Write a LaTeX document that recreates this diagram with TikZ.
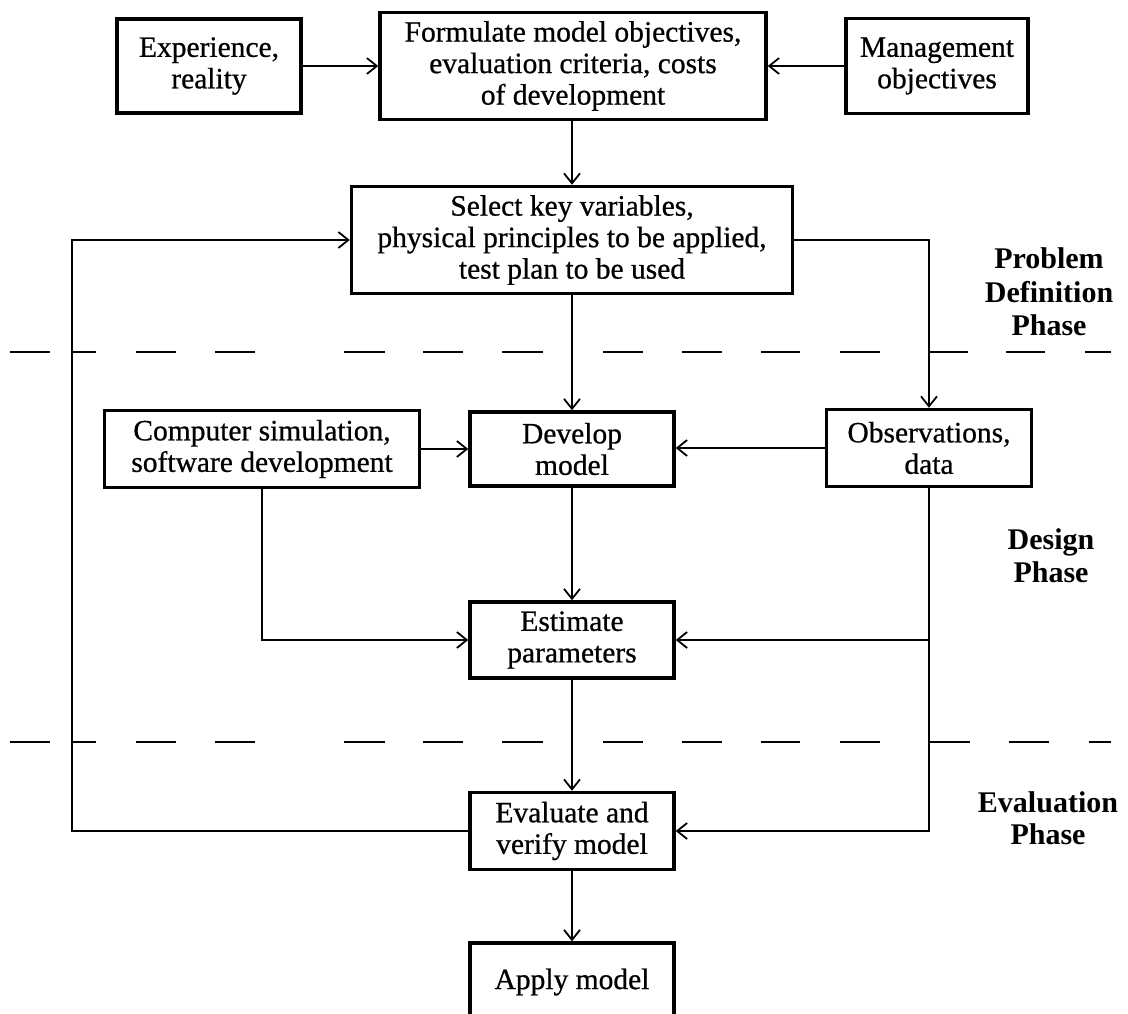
\documentclass[tikz,border=0pt]{standalone}
\usepackage{fontspec}
\setmainfont{Liberation Serif}
\newfontfamily\boxfont[FakeBold=0.7]{Liberation Serif}
\usetikzlibrary{arrows.meta}
\begin{document}
\begin{tikzpicture}[x=1pt,y=-1pt,
  box/.style={draw,line width=3.4pt,align=center,inner sep=0pt,font=\boxfont\fontsize{29.5}{31.5}\selectfont},
  conn/.style={line width=1.8pt,-{Straight Barb[length=10pt,width=16pt]}},
  dashseg/.style={line width=1.9pt},
  phase/.style={font=\fontsize{30}{33}\selectfont\bfseries,anchor=base}]
\useasboundingbox (0,0) rectangle (1128,1014);
\clip (0,0) rectangle (1128,1014);
\fill[white] (0,0) rectangle (1128,1014);

% boxes
\node[box,minimum width=184pt,minimum height=94pt] (exp) at (209,66) {Experience,\\reality};
\node[box,minimum width=386pt,minimum height=107pt] (form) at (573,66) {Formulate model objectives,\\evaluation criteria, costs\\of development};
\node[box,minimum width=182pt,minimum height=95pt] (mgmt) at (937,66) {Management\\objectives};
\node[box,minimum width=441pt,minimum height=107pt] (sel) at (572,240) {Select key variables,\\physical principles to be applied,\\test plan to be used};
\node[box,minimum width=315pt,minimum height=77pt] (comp) at (262,449) {Computer simulation,\\software development};
\node[box,minimum width=204pt,minimum height=74pt] (dev) at (572,449) {Develop\\model};
\node[box,minimum width=205pt,minimum height=77pt] (obs) at (929,448) {Observations,\\data};
\node[box,minimum width=204pt,minimum height=76pt] (est) at (572,640) {Estimate\\parameters};
\node[box,minimum width=204pt,minimum height=77pt] (eval) at (572,831) {Evaluate and\\verify model};
\node[box,minimum width=204pt,minimum height=78pt] (apply) at (572,982) {Apply model};

% connectors
\draw[conn] (exp.east) -- (exp.east -| form.west);
\draw[conn] (mgmt.west) -- (mgmt.west -| form.east);
\draw[conn] (form.south -| dev.north) -- (dev.north |- sel.north);
\draw[conn] (dev.north |- sel.south) -- (dev.north);
\coordinate (sr) at (929,240);
\draw[conn] (sel.east) -- (sr) -- (obs.north);
\draw[conn] (comp.east) -- (comp.east -| dev.west);
\draw[conn] (obs.west) -- (obs.west -| dev.east);
\draw[conn] (dev.south) -- (est.north);
\draw[conn] (comp.south) |- (est.west);
\draw[conn] (obs.south) |- (eval.east);
\draw[conn] (obs.south |- est.east) -- (est.east);
\draw[conn] (est.south) -- (eval.north);
\draw[conn] (eval.south) -- (apply.north);
\coordinate (fbl) at (72,240);
\draw[conn] (eval.west) -| (fbl) -- (sel.west);

% phase boundaries
\foreach \a/\b in {10/50,72/96,136/176,215/255,344/385,423/463,502/543,603/643,682/722,761/800,840/880,928/968,1006/1045,1085/1111}
  \draw[dashseg] (\a,352) -- (\b,352);
\foreach \a/\b in {10/50,72/96,136/176,215/255,344/385,423/463,502/543,603/643,682/722,761/800,840/880,930/970,1009/1049,1089/1111}
  \draw[dashseg] (\a,742) -- (\b,742);

% phase labels
\node[phase] (p1) at (1049,268) {Problem};
\node[phase] (p2) at (1049,302) {Definition};
\node[phase] (p3) at (1049,335) {Phase};
\node[phase] (d1) at (1051,549) {Design};
\node[phase] (d2) at (1051,582) {Phase};
\node[phase] (e1) at (1048,812) {Evaluation};
\node[phase] (e2) at (1048,844) {Phase};
\end{tikzpicture}
\end{document}
